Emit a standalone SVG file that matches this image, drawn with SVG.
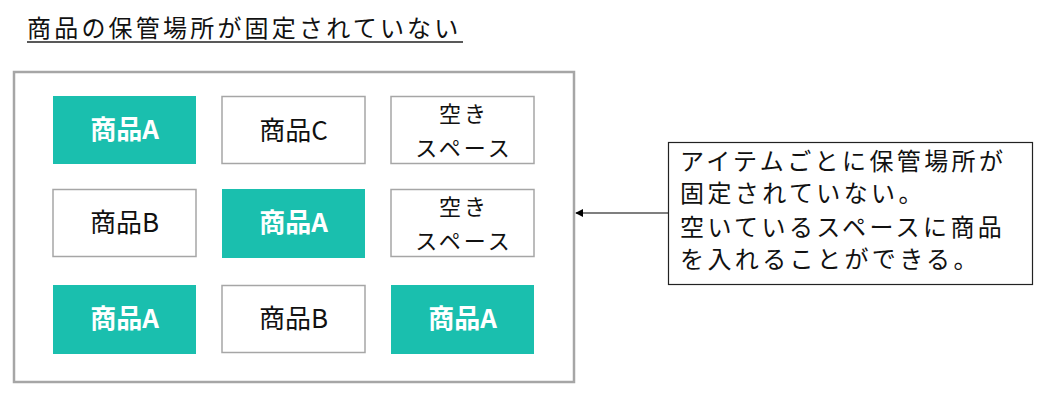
<svg xmlns="http://www.w3.org/2000/svg" width="1047" height="400" viewBox="0 0 1047 400">
<defs>
<marker id="arr" viewBox="0 0 10 10" refX="9" refY="5" markerWidth="8" markerHeight="8" markerUnits="userSpaceOnUse" orient="auto">
<path d="M0,0 L10,5 L0,10 z" fill="#000"/>
</marker>
<style>
text{font-family:"Noto Sans CJK JP","Noto Sans",sans-serif;}
.t{font-size:24px;fill:#111;letter-spacing:1px;}
.a{font-size:26px;fill:#fff;font-weight:bold;text-anchor:middle;}
.w{font-size:26px;fill:#111;text-anchor:middle;}
.s{font-size:22px;fill:#111;text-anchor:middle;letter-spacing:3px;}
.teal{fill:#1ABFAE;}
.cell{fill:#fff;stroke:#A6A6A6;stroke-width:1.5;}
</style>
</defs>
<rect width="1047" height="400" fill="#fff"/>
<g id="title">
<text class="t" x="27" y="37" style="letter-spacing:3.2px">商品の保管場所が固定されていない</text>
<line x1="27" y1="42" x2="463" y2="42" stroke="#222" stroke-width="1.5"/>
</g>
<g id="storage">
<rect x="14" y="72" width="560" height="310" fill="#fff" stroke="#A6A6A6" stroke-width="2.5"/>
</g>
<g id="cell-r1c1"><rect class="teal" x="53" y="96" width="143" height="68"/><text class="a" x="124.5" y="139">商品A</text></g>
<g id="cell-r1c2"><rect class="cell" x="222" y="96.5" width="143" height="67"/><text class="w" x="293.5" y="140">商品C</text></g>
<g id="cell-r1c3"><rect class="cell" x="391" y="96.5" width="143" height="67"/><text class="s" x="464" y="122">空き</text><text class="s" x="464" y="156">スペース</text></g>
<g id="cell-r2c1"><rect class="cell" x="53" y="189.5" width="143" height="67"/><text class="w" x="124.5" y="232">商品B</text></g>
<g id="cell-r2c2"><rect class="teal" x="222" y="189" width="143" height="69"/><text class="a" x="293.5" y="232">商品A</text></g>
<g id="cell-r2c3"><rect class="cell" x="391" y="189.5" width="143" height="67"/><text class="s" x="464" y="215">空き</text><text class="s" x="464" y="249">スペース</text></g>
<g id="cell-r3c1"><rect class="teal" x="53" y="285" width="143" height="69"/><text class="a" x="124.5" y="328">商品A</text></g>
<g id="cell-r3c2"><rect class="cell" x="222" y="285.5" width="143" height="67"/><text class="w" x="293.5" y="328">商品B</text></g>
<g id="cell-r3c3"><rect class="teal" x="391" y="285" width="143" height="69"/><text class="a" x="462.5" y="328">商品A</text></g>
<g id="note">
<rect x="668.5" y="142.5" width="364" height="142" fill="#fff" stroke="#222" stroke-width="1.2"/>
<text class="t" x="680" y="170" style="letter-spacing:3.4px">アイテムごとに保管場所が</text>
<text class="t" x="680" y="202" style="letter-spacing:3.4px">固定されていない。</text>
<text class="t" x="680" y="236" style="letter-spacing:3.4px">空いているスペースに商品</text>
<text class="t" x="680" y="268" style="letter-spacing:3.4px">を入れることができる。</text>
</g>
<g id="connectors">
<line x1="668" y1="213" x2="576" y2="213" stroke="#000" stroke-width="1.2" marker-end="url(#arr)"/>
</g>
</svg>
